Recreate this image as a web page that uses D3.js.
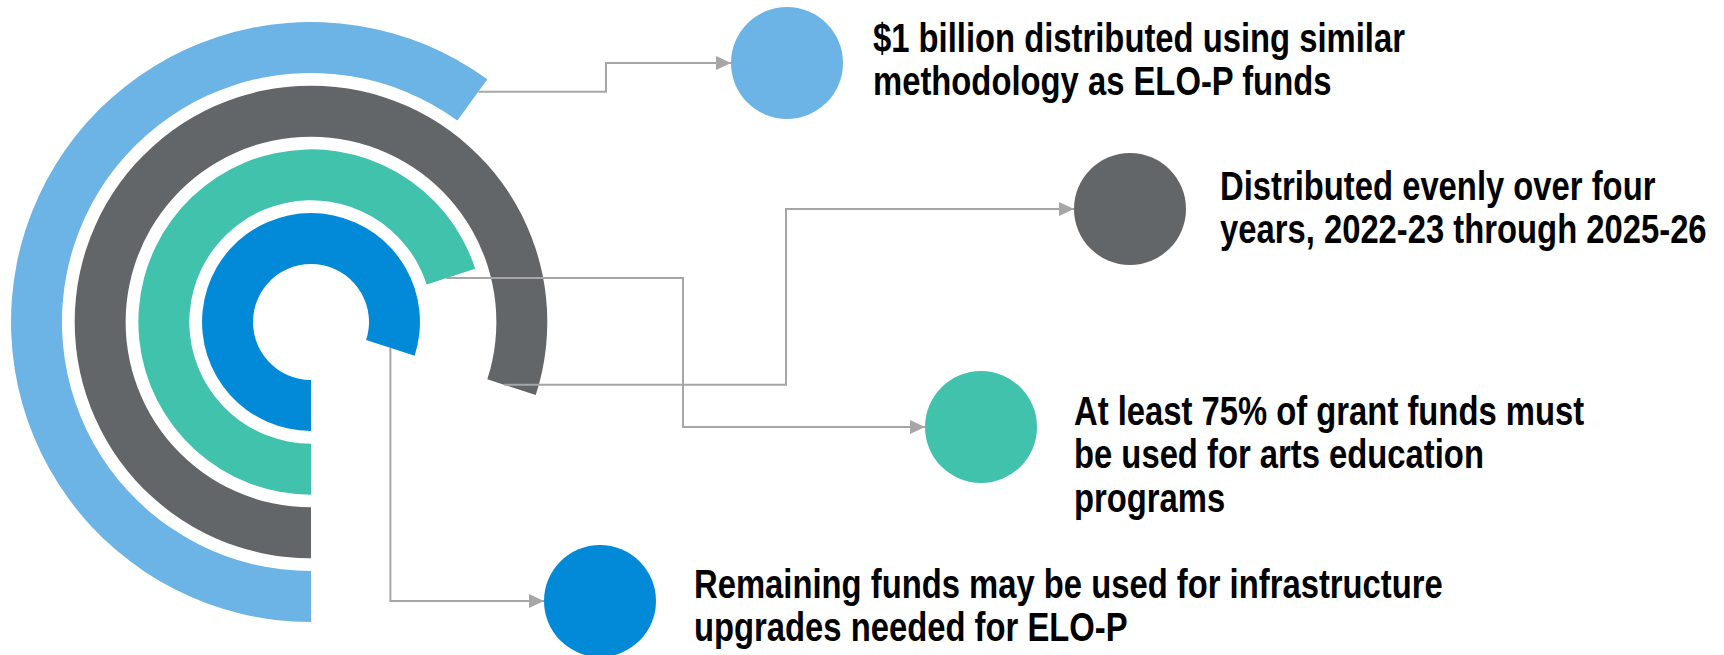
<!DOCTYPE html>
<meta charset="utf-8">
<style>

body {
  margin: 0;
  background: #fff;
}

svg {
  display: block;
}

.note {
  font-family: "Liberation Sans", Arial, sans-serif;
  font-weight: bold;
  font-size: 40px;
  fill: #000;
}

.connector {
  fill: none;
  stroke: #a6a6a6;
  stroke-width: 2;
}

</style>
<body>
<script src="https://d3js.org/d3.v7.min.js"></script>
<script>

// one entry per ring, outermost first (same order as the notes on the right)
var names = ["distribution", "years", "arts", "infrastructure"];
var shares = [0.6, 0.8, 0.7, 0.8];   // part of a full turn, starting at 6 o'clock, clockwise
var colors = ["#6cb3e6", "#626669", "#41c2ad", "#028ad8"];
var notes = [
  ["$1 billion distributed using similar", "methodology as ELO-P funds"],
  ["Distributed evenly over four", "years, 2022-23 through 2025-26"],
  ["At least 75% of grant funds must", "be used for arts education", "programs"],
  ["Remaining funds may be used for infrastructure", "upgrades needed for ELO-P"]
];

var width = 1724,
    height = 655;

// layout
var center = [311, 322];
var dots = [[787, 63], [1130, 209], [981, 427], [600, 601]];
var dotR = 56;
var textX = [873, 1220, 1074, 694];
var textY = [52, 200, 425, 598];
var lineH = 43.5;
var narrow = 0.82;                     // no narrow font here, so squeeze the bold one
var bendX = [606, 786, 683, null];     // null: go straight down then across
var startAt = [0.7, 0.35, 0.4, 0.5];   // where on the ring end the connector leaves

var svg = d3.select("body").append("svg")
    .attr("width", width)
    .attr("height", height);

svg.append("defs").append("marker")
    .attr("id", "arrow")
    .attr("viewBox", "0 0 15 14")
    .attr("refX", 15)
    .attr("refY", 7)
    .attr("markerWidth", 15)
    .attr("markerHeight", 14)
    .attr("markerUnits", "userSpaceOnUse")
    .attr("orient", "auto")
  .append("path")
    .attr("d", "M0,0L15,7L0,14Z")
    .attr("fill", "#a6a6a6");

// rings: index 0 is the outside one
var ring = d3.scaleBand()
    .domain(d3.range(names.length).reverse())
    .range([58, 300])
    .paddingInner(0.2);

var angle = d3.scaleLinear()
    .domain([0, 1])
    .range([Math.PI, 3 * Math.PI]);

var arc = d3.arc()
    .innerRadius(function(d, i) { return ring(i); })
    .outerRadius(function(d, i) { return ring(i) + ring.bandwidth(); })
    .startAngle(angle(0))
    .endAngle(function(d) { return angle(d); });

var g = svg.append("g")
    .attr("transform", "translate(" + center + ")");

g.selectAll("path")
  .data(shares)
  .enter().append("path")
    .attr("fill", function(d, i) { return colors[i]; })
    .attr("d", arc);

// connectors from the end of each ring to its dot
svg.selectAll(".connector")
  .data(shares)
  .enter().append("path")
    .attr("class", "connector")
    .attr("marker-end", "url(#arrow)")
    .attr("d", function(d, i) {
      var a = angle(d),
          r = ring(i) + startAt[i] * ring.bandwidth(),
          x0 = center[0] + r * Math.sin(a),
          y0 = center[1] - r * Math.cos(a),
          x1 = dots[i][0] - dotR,
          y1 = dots[i][1];
      var p = d3.path();
      p.moveTo(x0, y0);
      if (bendX[i] == null) {
        p.lineTo(x0, y1);
      } else {
        p.lineTo(bendX[i], y0);
        p.lineTo(bendX[i], y1);
      }
      p.lineTo(x1, y1);
      return p.toString();
    });

svg.selectAll("circle")
  .data(names)
  .enter().append("circle")
    .attr("cx", function(d, i) { return dots[i][0]; })
    .attr("cy", function(d, i) { return dots[i][1]; })
    .attr("r", dotR)
    .attr("fill", function(d, i) { return colors[i]; });

var text = svg.selectAll(".note")
  .data(notes)
  .enter().append("text")
    .attr("class", "note")
    .attr("transform", function(d, i) {
      return "translate(" + textX[i] + "," + textY[i] + ") scale(" + narrow + ",1)";
    });

text.selectAll("tspan")
  .data(function(d) { return d; })
  .enter().append("tspan")
    .attr("x", 0)
    .attr("y", function(d, j) { return j * lineH; })
    .text(function(d) { return d; });

</script>
